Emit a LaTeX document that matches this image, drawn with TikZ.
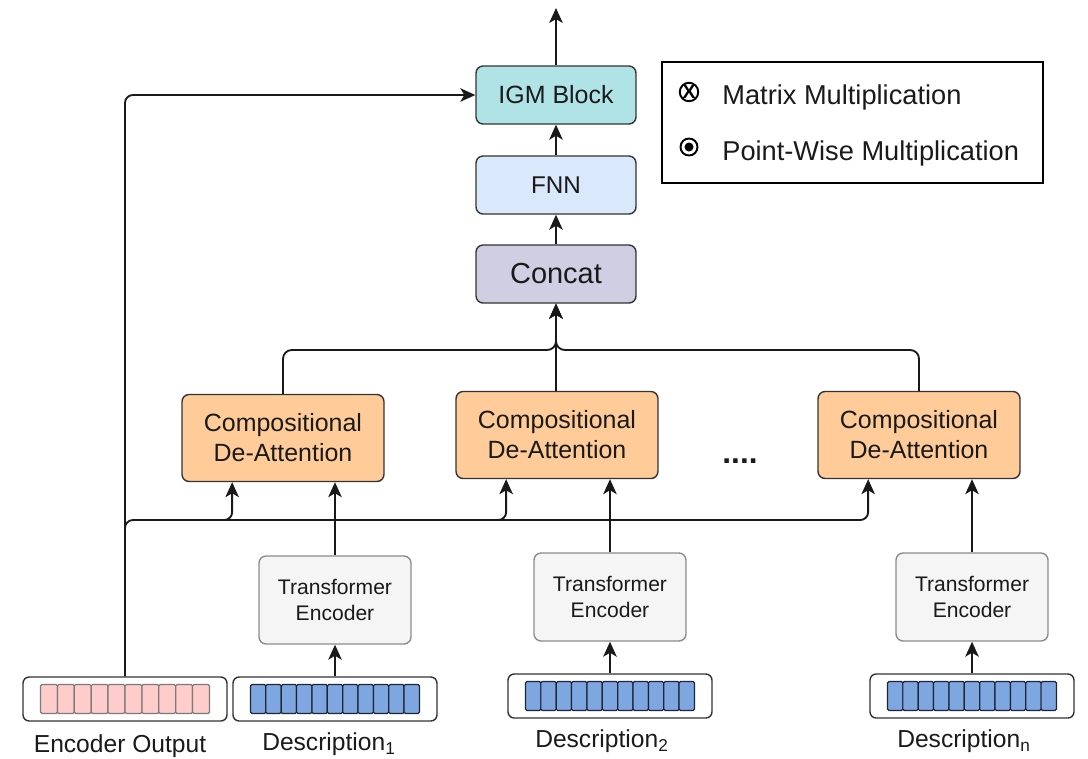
\documentclass[tikz,border=0pt]{standalone}
\usepackage{fontspec}
\setmainfont{Liberation Sans}
\usetikzlibrary{arrows.meta,calc}
\definecolor{igmfill}{HTML}{B0E3E6}
\definecolor{fnnfill}{HTML}{DAE8FC}
\definecolor{catfill}{HTML}{D0CEE2}
\definecolor{cdafill}{HTML}{FFCC99}
\definecolor{tefill}{HTML}{F5F5F5}
\definecolor{teline}{HTML}{8C8C8C}
\definecolor{boxline}{HTML}{333333}
\definecolor{pinkcell}{HTML}{FFCCCC}
\definecolor{pinkline}{HTML}{7A7A7A}
\definecolor{bluecell}{HTML}{7EA6E0}
\definecolor{blueline}{HTML}{1F2533}
\definecolor{txt}{HTML}{1A1A1A}
\begin{document}
\begin{tikzpicture}[x=0.02cm,y=-0.02cm,
  box/.style={draw=boxline, line width=0.8pt, rounded corners=4pt, align=center, text=txt, inner sep=0pt},
  topbox/.style={box, minimum width=3.2cm, minimum height=1.16cm},
  cdabox/.style={box, fill=cdafill, minimum width=4.04cm, minimum height=1.74cm, font=\fontsize{14.2}{17}\selectfont},
  tebox/.style={box, draw=teline, fill=tefill, minimum width=3.04cm, minimum height=1.76cm, font=\fontsize{12}{15}\selectfont},
  arrbox/.style={draw=boxline, line width=0.8pt, rounded corners=3.5pt, fill=white, minimum width=4.08cm, minimum height=0.88cm},
  pcell/.style={draw=pinkline, fill=pinkcell, line width=0.7pt, rounded corners=0.8pt},
  bcell/.style={draw=blueline, fill=bluecell, line width=0.7pt, rounded corners=0.8pt},
  conn/.style={draw=black!90, line width=1.05pt},
  arr/.style={conn, -{Stealth[length=0.3cm,width=0.27cm,inset=0.08cm]}},
  lbl/.style={text=txt, font=\fontsize{14}{16}\selectfont, inner sep=0pt},
  leglbl/.style={text=txt, font=\fontsize{15.5}{18}\selectfont, inner sep=0pt, anchor=west}
]
\useasboundingbox (0,0) rectangle (1088,758);

% top column
\node[topbox, fill=igmfill, font=\fontsize{14.2}{17}\selectfont] (igm) at (556,95) {IGM Block};
\node[topbox, fill=fnnfill, font=\fontsize{13.8}{17}\selectfont] (fnn) at (556,185) {FNN};
\node[topbox, fill=catfill, font=\fontsize{16.5}{19}\selectfont] (concat) at (556,274) {Concat};
\coordinate (out) at (556,8);

% legend
\node[draw=black, line width=0.8pt, minimum width=7.62cm, minimum height=2.42cm, inner sep=0pt] (legend) at (852.5,122.5) {};
\node[draw=black, line width=1.1pt, circle, minimum size=0.34cm, inner sep=0pt, font=\bfseries\fontsize{11}{11}\selectfont] (mmsym) at (689,92) {X};
\node[leglbl] (mmtxt) at (722,97) {Matrix Multiplication};
\node[draw=black, line width=1.1pt, circle, minimum size=0.34cm, inner sep=0pt] (pwsym) at (689,147) {};
\fill[black] (pwsym.center) circle (4.5);
\node[leglbl] (pwtxt) at (722,153) {Point-Wise Multiplication};

% compositional de-attention
\node[cdabox] (cda1) at (283,438) {Compositional\\De-Attention};
\node[cdabox] (cda2) at (557,435) {Compositional\\De-Attention};
\node[cdabox] (cda3) at (919,435) {Compositional\\De-Attention};
\node[text=txt, font=\bfseries\fontsize{18}{18}\selectfont, inner sep=0pt] (dots) at (740,461) {....};

% transformer encoders
\node[tebox] (te1) at (335,600) {Transformer\\Encoder};
\node[tebox] (te2) at (610,597) {Transformer\\Encoder};
\node[tebox] (te3) at (972,597) {Transformer\\Encoder};

% arrays
\node[arrbox] (enc) at (125,699) {};
\node[arrbox] (d1) at (335,699) {};
\node[arrbox] (d2) at (610,696) {};
\node[arrbox] (d3) at (972,696) {};
\foreach \i in {0,...,9} \draw[pcell] ($(enc.center)+(-84.5+\i*16.9,-14.5)$) rectangle ++(16.9,29);
\foreach \a in {d1,d2,d3} {
  \foreach \i in {0,...,10} \draw[bcell] ($(\a.center)+(-84.5+\i*15.36,-14.5)$) rectangle ++(15.36,29);
}

% labels
\node[lbl] (encl) at (120,746) {Encoder Output};
\node[lbl] (d1l) at (329,744) {Description\textsubscript{1}};
\node[lbl] (d2l) at (602,741) {Description\textsubscript{2}};
\node[lbl] (d3l) at (964,741) {Description\textsubscript{n}};

% connectors: top column
\draw[arr] (igm.north) -- (out);
\draw[arr] (fnn.north) -- (igm.south);
\draw[arr] (concat.north) -- (fnn.south);

% encoder output to IGM
\draw[arr, rounded corners=4.5pt] (enc.north) |- (igm.west);

% bus to CDA
\coordinate (busy) at (125,520);
\coordinate (busstart) at (125,545);
\coordinate (c1q) at ($(cda1.south west)!0.25!(cda1.south east)$);
\coordinate (c2q) at ($(cda2.south west)!0.25!(cda2.south east)$);
\coordinate (c3q) at ($(cda3.south west)!0.25!(cda3.south east)$);
\draw[arr, rounded corners=4.5pt] (busstart) |- (c3q |- busy) -- (c3q);
\draw[arr, rounded corners=4.5pt] ($(c1q |- busy)+(-20,0)$) -| (c1q);
\draw[arr, rounded corners=4.5pt] ($(c2q |- busy)+(-20,0)$) -| (c2q);

% transformer encoders to CDA
\draw[arr] (te1.north) -- (te1.north |- cda1.south);
\draw[arr] (te2.north) -- (te2.north |- cda2.south);
\draw[arr] (te3.north) -- (te3.north |- cda3.south);

% descriptions to transformer encoders
\draw[arr] (d1.north) -- (te1.south);
\draw[arr] (d2.north) -- (te2.south);
\draw[arr] (d3.north) -- (te3.south);

% CDA to concat
\coordinate (mj) at (556,350);
\draw[arr, rounded corners=5pt] (cda1.north) |- (mj) -- (concat.south);
\draw[arr, rounded corners=5pt] (cda3.north) |- (mj) -- (concat.south);
\draw[arr] (cda2.north -| concat.south) -- (concat.south);
\end{tikzpicture}
\end{document}
